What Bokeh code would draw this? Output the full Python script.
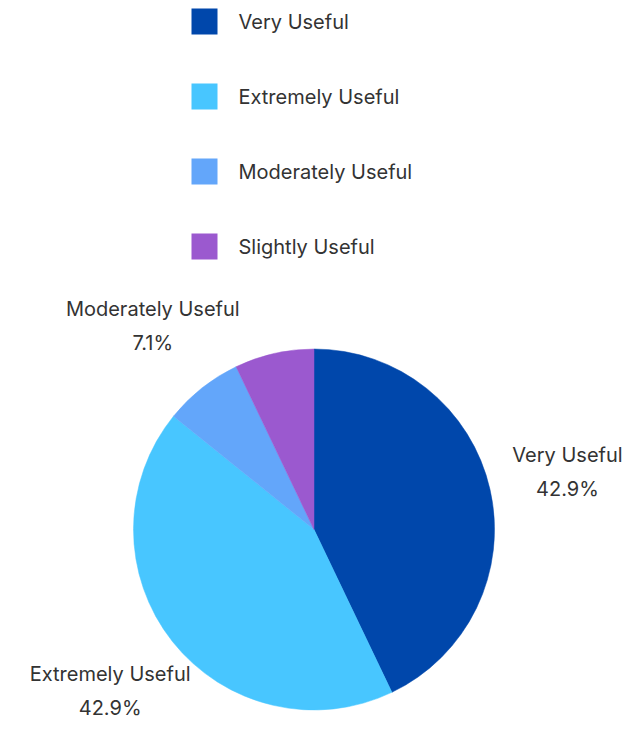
import math
from bokeh.plotting import figure
from bokeh.models import Range1d, ColumnDataSource
from bokeh.core.properties import value
from bokeh.embed import file_html
from bokeh.resources import INLINE

categories = ["Very Useful", "Extremely Useful", "Moderately Useful", "Slightly Useful"]
percents = [42.9, 42.9, 7.1, 7.1]
colors = ["#0047AB", "#48C6FF", "#63A6FA", "#9B59CF"]
show_label = [True, True, True, False]

W, H = 623, 734
p = figure(width=W, height=H, output_backend="svg", toolbar_location=None,
           x_range=Range1d(0, W), y_range=Range1d(0, H), min_border=0)
p.axis.visible = False
p.grid.visible = False
p.outline_line_color = None
p.background_fill_color = "white"

cx, cy, r = 313.5, H - 529, 180.5
total = sum(percents)
starts, ends, mids = [], [], []
a = math.pi / 2
for v in percents:
    sweep = v / total * 2 * math.pi
    starts.append(a)
    ends.append(a - sweep)
    mids.append(a - sweep / 2)
    a -= sweep

src = ColumnDataSource(dict(start=starts, end=ends, color=colors))
p.wedge(x=cx, y=cy, radius=r, start_angle="start", end_angle="end",
        direction="clock", fill_color="color", line_color="color", line_width=0.5, source=src)

font = value("Inter")
tc = "#333333"
fs = "20px"
lf = 1.44
lx, ly1, ly2, t1, t2 = [], [], [], [], []
for cat, v, m, s in zip(categories, percents, mids, show_label):
    if not s:
        continue
    x = cx + lf * r * math.cos(m)
    y = cy + lf * r * math.sin(m)
    lx.append(x)
    ly1.append(y + 17)
    ly2.append(y - 17)
    t1.append(cat)
    t2.append(f"{v:.1f}%")
p.text(x=lx, y=ly1, text=t1, text_font=font, text_font_size=fs, text_color=tc,
       text_align="center", text_baseline="middle")
p.text(x=lx, y=ly2, text=t2, text_font=font, text_font_size=fs, text_color=tc,
       text_align="center", text_baseline="middle")

# legend
ys = [H - (21 + 75 * i) for i in range(len(categories))]
p.rect(x=[204] * len(categories), y=ys, width=26, height=26, fill_color=colors, line_color=None)
p.text(x=[238] * len(categories), y=ys, text=categories, text_font=font, text_font_size=fs,
       text_color=tc, text_align="left", text_baseline="middle")

open("out.html", "w").write(file_html(p, INLINE))
